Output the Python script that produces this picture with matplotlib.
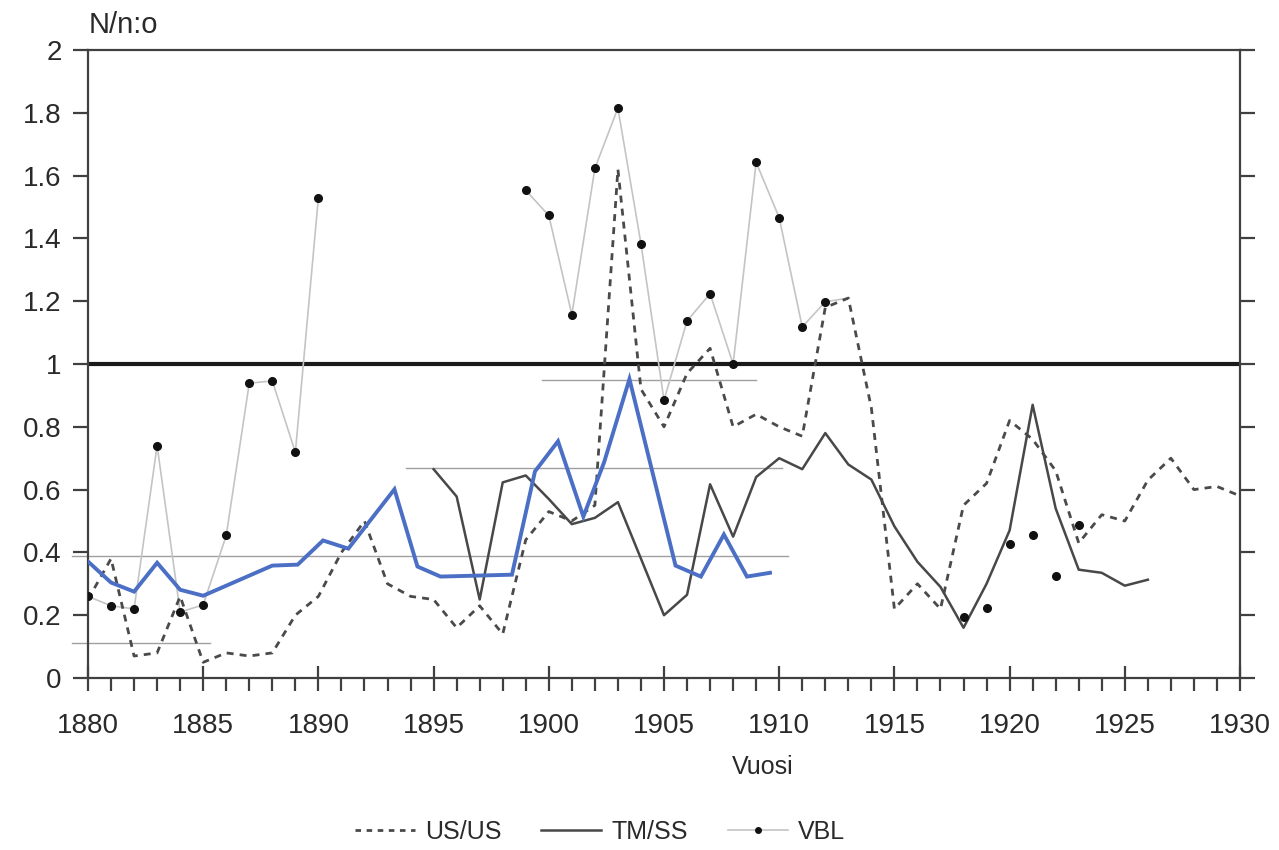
import matplotlib
matplotlib.use("Agg")
import matplotlib.pyplot as plt
import numpy as np
from matplotlib.lines import Line2D

# ---------------- data ----------------
us_years = list(range(1880, 1931))
us_values = [0.25, 0.38, 0.07, 0.08, 0.26, 0.05, 0.08, 0.07, 0.08, 0.20,
             0.26, 0.40, 0.50, 0.30, 0.26, 0.25, 0.16, 0.23, 0.14, 0.44,
             0.53, 0.50, 0.55, 1.62, 0.92, 0.80, 0.97, 1.05, 0.80, 0.84,
             0.80, 0.77, 1.18, 1.21, 0.86, 0.22, 0.30, 0.22, 0.55, 0.62,
             0.82, 0.76, 0.66, 0.43, 0.52, 0.50, 0.63, 0.70, 0.60, 0.61,
             0.58]

tm_years = list(range(1895, 1927))
tm_values = [0.665, 0.578, 0.25, 0.623, 0.645, 0.57, 0.49, 0.51, 0.56, 0.38,
             0.20, 0.265, 0.617, 0.45, 0.64, 0.70, 0.665, 0.78, 0.68, 0.632,
             0.483, 0.37, 0.29, 0.16, 0.30, 0.47, 0.87, 0.54, 0.345, 0.335,
             0.294, 0.313]

vbl_early_years = list(range(1880, 1891))
vbl_early_values = [0.26, 0.23, 0.22, 0.74, 0.21, 0.233, 0.454, 0.939, 0.946, 0.719, 1.53]

vbl_mid_years = list(range(1899, 1914))
vbl_mid_values = [1.553, 1.473, 1.157, 1.623, 1.815, 1.383, 0.885, 1.137, 1.224, 1.0,
                  1.642, 1.466, 1.118, 1.198, 1.21]

vbl_late_years = list(range(1918, 1924))
vbl_late_values = [0.195, 0.224, 0.428, 0.457, 0.326, 0.486]

# blue overlay trace
blue_years = [1880.0, 1881.0, 1882.0, 1883.0, 1884.0, 1885.0, 1888.0, 1889.1, 1890.2,
              1891.3, 1893.3, 1894.3, 1895.3, 1898.4, 1899.4, 1900.4, 1901.5, 1902.4,
              1903.5, 1905.5, 1906.6, 1907.6, 1908.6, 1909.6]
blue_values = [0.371, 0.304, 0.275, 0.367, 0.281, 0.262, 0.358, 0.361, 0.438,
               0.412, 0.601, 0.355, 0.323, 0.329, 0.658, 0.754, 0.514, 0.687,
               0.952, 0.358, 0.323, 0.457, 0.323, 0.335]

# faint horizontal guide strokes on the scan
ghost_levels = [0.39, 0.67, 0.95, 0.11]
ghost_start = [1879.3, 1893.8, 1899.7, 1879.3]
ghost_end = [1910.4, 1910.1, 1909.0, 1885.3]

reference_level = 1.0
x_major = list(range(1880, 1931, 5))
y_ticks = [0, 0.2, 0.4, 0.6, 0.8, 1.0, 1.2, 1.4, 1.6, 1.8, 2.0]
y_labels = ["0", "0.2", "0.4", "0.6", "0.8", "1", "1.2", "1.4", "1.6", "1.8", "2"]

# ---------------- plot ----------------
plt.rcParams['font.family'] = ['Liberation Sans', 'DejaVu Sans']
fig = plt.figure(figsize=(12.79, 8.5), dpi=100)
ax = fig.add_axes([88/1279, 1-678/850, (1240-88)/1279, (678-50)/850])

spine_c = '#404040'
for s in ax.spines.values():
    s.set_color(spine_c)
    s.set_linewidth(1.6)

ax.set_xlim(1880, 1930)
ax.set_ylim(0, 2)

# ghost lines
for lv, a, b in zip(ghost_levels, ghost_start, ghost_end):
    ax.plot([a, b], [lv, lv], color='#a0a0a0', lw=1.0, clip_on=False, zorder=1)

# reference line
ax.axhline(reference_level, color='#1a1a1a', lw=3.0, zorder=2)

# VBL
vbl_c = '#c4c4c4'
ax.plot(vbl_early_years, vbl_early_values, color=vbl_c, lw=1.2, zorder=3)
ax.plot(vbl_mid_years, vbl_mid_values, color=vbl_c, lw=1.2, zorder=3)
ax.plot(vbl_early_years, vbl_early_values, ls='none', marker='o', ms=5.5,
        color='#111111', zorder=6)
ax.plot(vbl_mid_years[:-1], vbl_mid_values[:-1], ls='none', marker='o', ms=5.5,
        color='#111111', zorder=6)
ax.plot(vbl_late_years, vbl_late_values, ls='none', marker='o', ms=5.5,
        color='#111111', zorder=6)

# US/US
ax.plot(us_years, us_values, color='#4a4a4a', lw=2.0, ls=(0, (2.5, 2.2)), zorder=4)
# TM/SS
ax.plot(tm_years, tm_values, color='#484848', lw=1.8, zorder=4)
# blue overlay
ax.plot(blue_years, blue_values, color='#4a6fc4', lw=2.8, zorder=7,
        solid_joinstyle='miter')

# ticks
ax.set_yticks(y_ticks)
ax.set_yticklabels(y_labels)
ax.set_xticks(x_major)
ax.set_xticklabels([str(y) for y in x_major])
ax.set_xticks(list(range(1880, 1931)), minor=True)
ax.tick_params(axis='y', which='major', direction='out', length=11, width=1.6,
               color=spine_c, labelsize=20, pad=8, labelcolor='#2a2a2a',
               right=True)
ax.tick_params(axis='x', which='major', direction='inout', length=18, width=1.6,
               color=spine_c, labelsize=20, pad=16, labelcolor='#2a2a2a')
ax.tick_params(axis='x', which='minor', direction='out', length=9, width=1.6,
               color=spine_c)

ax.text(1909.3, -0.284, "Vuosi", ha='center', va='center', fontsize=18,
        color='#2a2a2a')
fig.text(123/1279, 1-25/850, "N/n:o", ha='center', va='center', fontsize=21,
         color='#2a2a2a')

# legend
handles = [Line2D([], [], color='#4a4a4a', lw=2.0, ls=(0, (2.0, 2.0))),
           Line2D([], [], color='#484848', lw=1.8),
           Line2D([], [], color=vbl_c, lw=1.2, marker='o', ms=4,
                  markerfacecolor='#111111', markeredgecolor='#111111')]
fig.legend(handles, ["US/US", "TM/SS", "VBL"], loc='center',
           bbox_to_anchor=(600/1279, 1-832/850), ncol=3, frameon=False,
           fontsize=18, handlelength=2.4, columnspacing=1.6, handletextpad=0.4,
           labelcolor='#2a2a2a')

fig.savefig("out.png", dpi=100)
